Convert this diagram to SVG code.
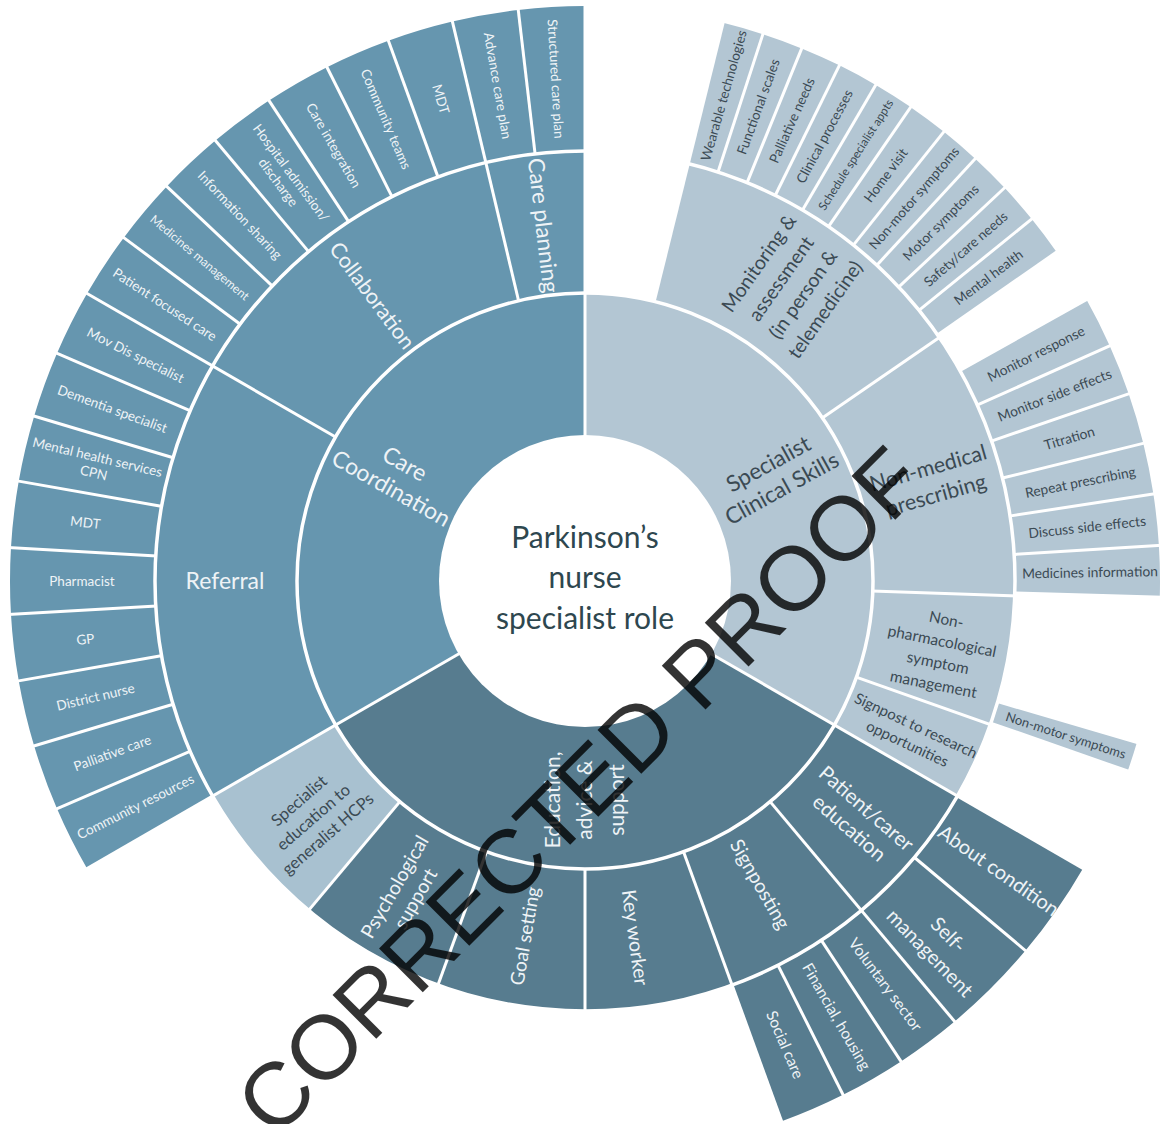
<svg xmlns="http://www.w3.org/2000/svg" width="1164" height="1124" viewBox="0 0 1164 1124">
<style>
.s{fill:none}
.cc{stroke:#6696af}
.ed{stroke:#577c8f}
.sp{stroke:#b3c6d3}
.se{stroke:#a8c1d0}
.r1{stroke-width:143}
.r2{stroke-width:142}
.r3{stroke-width:145}
.t{font-family:Lato,"Open Sans","DejaVu Sans",sans-serif;text-anchor:middle}
.w{fill:#eef3f6}
.d{fill:#3b4a53}
.wm{font-family:"Liberation Sans",Arial,sans-serif;text-anchor:start;fill:#000;fill-opacity:0.8}
</style>
<rect width="1164" height="1124" fill="#fff"/>
<g transform="translate(585,581)">
<!-- Ring 1 -->
<g id="n-care-coordination">
<circle class="s cc r1" r="216.5" pathLength="360" stroke-dasharray="120 400" transform="rotate(150)"/>
<text class="t w" font-size="23" transform="rotate(299.3) translate(0,-214.5) rotate(90)"><tspan x="0" y="-6">Care</tspan><tspan x="0" y="22">Coordination</tspan></text>
</g>
<g id="n-specialist-clinical-skills">
<circle class="s sp r1" r="216.5" pathLength="360" stroke-dasharray="120 400" transform="rotate(-90)"/>
<text class="t d" font-size="22.5" transform="rotate(61.1) translate(0,-217) rotate(-90)"><tspan x="0" y="-6.1">Specialist</tspan><tspan x="0" y="21.9">Clinical Skills</tspan></text>
</g>
<g id="n-education-advice-support">
<circle class="s ed r1" r="216.5" pathLength="360" stroke-dasharray="120 400" transform="rotate(30)"/>
<text class="t w" font-size="21" transform="rotate(180) translate(0,-219) rotate(90)"><tspan x="0" y="-24.65">Education,</tspan><tspan x="0" y="7.35">advice &amp;</tspan><tspan x="0" y="39.35">support</tspan></text>
</g>
<!-- Ring 2 -->
<g id="n-care-planning">
<circle class="s cc r2" r="359" pathLength="360" stroke-dasharray="13.333 400" transform="rotate(256.667)"/>
<text class="t w" font-size="22.5" transform="rotate(353.333) translate(0,-358) rotate(90)"><tspan x="0" y="7.9">Care planning</tspan></text>
</g>
<g id="n-collaboration">
<circle class="s cc r2" r="359" pathLength="360" stroke-dasharray="46.667 400" transform="rotate(210)"/>
<text class="t w" font-size="21.5" transform="rotate(323.3) translate(0,-356) rotate(90)"><tspan x="0" y="7.5">Collaboration</tspan></text>
</g>
<g id="n-referral">
<circle class="s cc r2" r="359" pathLength="360" stroke-dasharray="60 400" transform="rotate(150)"/>
<text class="t w" font-size="23" transform="rotate(270) translate(0,-360) rotate(90)"><tspan x="0" y="8">Referral</tspan></text>
</g>
<g id="n-monitoring-assessment">
<circle class="s sp r2" r="359" pathLength="360" stroke-dasharray="41.6 400" transform="rotate(-76.1)"/>
<text class="t d" font-size="19.5" transform="rotate(35.1) translate(0,-360) rotate(-90)"><tspan x="0" y="-33.7">Monitoring &amp;</tspan><tspan x="0" y="-6.7">assessment</tspan><tspan x="0" y="20.3">(in person &amp;</tspan><tspan x="0" y="47.3">telemedicine)</tspan></text>
</g>
<g id="n-non-medical-prescribing">
<circle class="s sp r2" r="359" pathLength="360" stroke-dasharray="36.5 400" transform="rotate(-34.5)"/>
<text class="t d" font-size="21.5" transform="rotate(74) translate(0,-361) rotate(-90)"><tspan x="0" y="-6.5">Non-medical</tspan><tspan x="0" y="21.5">prescribing</tspan></text>
</g>
<g id="n-non-pharmacological">
<circle class="s sp r2" r="359" pathLength="360" stroke-dasharray="17.5 400" transform="rotate(2)"/>
<text class="t d" font-size="15.5" transform="rotate(101.3) translate(0,-362) rotate(-90)"><tspan x="0" y="-27.6">Non-</tspan><tspan x="0" y="-5.6">pharmacological</tspan><tspan x="0" y="16.4">symptom</tspan><tspan x="0" y="38.4">management</tspan></text>
</g>
<g id="n-signpost-research">
<circle class="s sp r2" r="359" pathLength="360" stroke-dasharray="10.5 400" transform="rotate(19.5)"/>
<text class="t d" font-size="15" transform="rotate(115.2) translate(0,-361) rotate(-90)"><tspan x="0" y="-4.75">Signpost to research</tspan><tspan x="0" y="15.25">opportunities</tspan></text>
</g>
<g id="n-patient-carer-education">
<circle class="s ed r2" r="359" pathLength="360" stroke-dasharray="20 400" transform="rotate(30)"/>
<text class="t w" font-size="20.5" transform="rotate(131) translate(0,-361.5) rotate(-90)"><tspan x="0" y="-5.8">Patient/carer</tspan><tspan x="0" y="20.2">education</tspan></text>
</g>
<g id="n-signposting">
<circle class="s ed r2" r="359" pathLength="360" stroke-dasharray="20 400" transform="rotate(50)"/>
<text class="t w" font-size="19.5" transform="rotate(150) translate(0,-350) rotate(-90)"><tspan x="0" y="6.8">Signposting</tspan></text>
</g>
<g id="n-key-worker">
<circle class="s ed r2" r="359" pathLength="360" stroke-dasharray="20 400" transform="rotate(70)"/>
<text class="t w" font-size="19.5" transform="rotate(172) translate(0,-360) rotate(-90)"><tspan x="0" y="6.8">Key worker</tspan></text>
</g>
<g id="n-goal-setting">
<circle class="s ed r2" r="359" pathLength="360" stroke-dasharray="20 400" transform="rotate(90)"/>
<text class="t w" font-size="19" transform="rotate(189.6) translate(0,-360) rotate(90)"><tspan x="0" y="6.65">Goal setting</tspan></text>
</g>
<g id="n-psychological-support">
<circle class="s ed r2" r="359" pathLength="360" stroke-dasharray="20 400" transform="rotate(110)"/>
<text class="t w" font-size="19.5" transform="rotate(210) translate(0,-360) rotate(90)"><tspan x="0" y="-5.2">Psychological</tspan><tspan x="0" y="18.8">support</tspan></text>
</g>
<g id="n-specialist-education">
<circle class="s se r2" r="359" pathLength="360" stroke-dasharray="20 400" transform="rotate(130)"/>
<text class="t d" font-size="16.5" transform="rotate(229) translate(0,-360) rotate(90)"><tspan x="0" y="-16.2">Specialist</tspan><tspan x="0" y="5.8">education to</tspan><tspan x="0" y="27.8">generalist HCPs</tspan></text>
</g>
<!-- Ring 3: Care coordination leaves -->
<g id="n-structured-care-plan">
<circle class="s cc r3" r="502.5" pathLength="360" stroke-dasharray="6.667 400" transform="rotate(263.333)"/>
<text class="t w" font-size="13.5" transform="rotate(356.667) translate(0,-503) rotate(90)"><tspan x="0" y="4.7">Structured care plan</tspan></text>
</g>
<g id="n-advance-care-plan">
<circle class="s cc r3" r="502.5" pathLength="360" stroke-dasharray="6.667 400" transform="rotate(256.667)"/>
<text class="t w" font-size="13.5" transform="rotate(350) translate(0,-503) rotate(90)"><tspan x="0" y="4.7">Advance care plan</tspan></text>
</g>
<g id="n-mdt-collaboration">
<circle class="s cc r3" r="502.5" pathLength="360" stroke-dasharray="6.667 400" transform="rotate(250)"/>
<text class="t w" font-size="13.5" transform="rotate(343.333) translate(0,-503) rotate(90)"><tspan x="0" y="4.7">MDT</tspan></text>
</g>
<g id="n-community-teams">
<circle class="s cc r3" r="502.5" pathLength="360" stroke-dasharray="6.667 400" transform="rotate(243.333)"/>
<text class="t w" font-size="13.5" transform="rotate(336.667) translate(0,-503) rotate(90)"><tspan x="0" y="4.7">Community teams</tspan></text>
</g>
<g id="n-care-integration">
<circle class="s cc r3" r="502.5" pathLength="360" stroke-dasharray="6.667 400" transform="rotate(236.667)"/>
<text class="t w" font-size="13.5" transform="rotate(330) translate(0,-503) rotate(90)"><tspan x="0" y="4.7">Care integration</tspan></text>
</g>
<g id="n-hospital-admission">
<circle class="s cc r3" r="502.5" pathLength="360" stroke-dasharray="6.667 400" transform="rotate(230)"/>
<text class="t w" font-size="13.5" transform="rotate(323.333) translate(0,-503) rotate(90)"><tspan x="0" y="-3.3">Hospital admission/</tspan><tspan x="0" y="12.7">discharge</tspan></text>
</g>
<g id="n-information-sharing">
<circle class="s cc r3" r="502.5" pathLength="360" stroke-dasharray="6.667 400" transform="rotate(223.333)"/>
<text class="t w" font-size="13.5" transform="rotate(316.667) translate(0,-503) rotate(90)"><tspan x="0" y="4.7">Information sharing</tspan></text>
</g>
<g id="n-medicines-management">
<circle class="s cc r3" r="502.5" pathLength="360" stroke-dasharray="6.667 400" transform="rotate(216.667)"/>
<text class="t w" font-size="12" transform="rotate(310) translate(0,-503) rotate(90)"><tspan x="0" y="4.2">Medicines management</tspan></text>
</g>
<g id="n-patient-focused-care">
<circle class="s cc r3" r="502.5" pathLength="360" stroke-dasharray="6.667 400" transform="rotate(210)"/>
<text class="t w" font-size="13.5" transform="rotate(303.333) translate(0,-503) rotate(90)"><tspan x="0" y="4.7">Patient focused care</tspan></text>
</g>
<g id="n-mov-dis-specialist">
<circle class="s cc r3" r="502.5" pathLength="360" stroke-dasharray="6.667 400" transform="rotate(203.333)"/>
<text class="t w" font-size="13.5" transform="rotate(296.667) translate(0,-503) rotate(90)"><tspan x="0" y="4.7">Mov Dis specialist</tspan></text>
</g>
<g id="n-dementia-specialist">
<circle class="s cc r3" r="502.5" pathLength="360" stroke-dasharray="6.667 400" transform="rotate(196.667)"/>
<text class="t w" font-size="13.5" transform="rotate(290) translate(0,-503) rotate(90)"><tspan x="0" y="4.7">Dementia specialist</tspan></text>
</g>
<g id="n-mental-health-services">
<circle class="s cc r3" r="502.5" pathLength="360" stroke-dasharray="6.667 400" transform="rotate(190)"/>
<text class="t w" font-size="13.5" transform="rotate(283.333) translate(0,-503) rotate(90)"><tspan x="0" y="-3.3">Mental health services</tspan><tspan x="0" y="12.7">CPN</tspan></text>
</g>
<g id="n-mdt-referral">
<circle class="s cc r3" r="502.5" pathLength="360" stroke-dasharray="6.667 400" transform="rotate(183.333)"/>
<text class="t w" font-size="13.5" transform="rotate(276.667) translate(0,-503) rotate(90)"><tspan x="0" y="4.7">MDT</tspan></text>
</g>
<g id="n-pharmacist">
<circle class="s cc r3" r="502.5" pathLength="360" stroke-dasharray="6.667 400" transform="rotate(176.667)"/>
<text class="t w" font-size="13.5" transform="rotate(270) translate(0,-503) rotate(90)"><tspan x="0" y="4.7">Pharmacist</tspan></text>
</g>
<g id="n-gp">
<circle class="s cc r3" r="502.5" pathLength="360" stroke-dasharray="6.667 400" transform="rotate(170)"/>
<text class="t w" font-size="13.5" transform="rotate(263.333) translate(0,-503) rotate(90)"><tspan x="0" y="4.7">GP</tspan></text>
</g>
<g id="n-district-nurse">
<circle class="s cc r3" r="502.5" pathLength="360" stroke-dasharray="6.667 400" transform="rotate(163.333)"/>
<text class="t w" font-size="13.5" transform="rotate(256.667) translate(0,-503) rotate(90)"><tspan x="0" y="4.7">District nurse</tspan></text>
</g>
<g id="n-palliative-care">
<circle class="s cc r3" r="502.5" pathLength="360" stroke-dasharray="6.667 400" transform="rotate(156.667)"/>
<text class="t w" font-size="13.5" transform="rotate(250) translate(0,-503) rotate(90)"><tspan x="0" y="4.7">Palliative care</tspan></text>
</g>
<g id="n-community-resources">
<circle class="s cc r3" r="502.5" pathLength="360" stroke-dasharray="6.667 400" transform="rotate(150)"/>
<text class="t w" font-size="13.5" transform="rotate(243.333) translate(0,-503) rotate(90)"><tspan x="0" y="4.7">Community resources</tspan></text>
</g>
<!-- Ring 3: Monitoring leaves -->
<g id="n-wearable-technologies">
<circle class="s sp r3" r="502.5" pathLength="360" stroke-dasharray="4.12 400" transform="rotate(-76.1)"/>
<text class="t d" font-size="13.5" transform="rotate(15.96) translate(0,-505) rotate(-90)"><tspan x="0" y="4.7">Wearable technologies</tspan></text>
</g>
<g id="n-functional-scales">
<circle class="s sp r3" r="502.5" pathLength="360" stroke-dasharray="4.12 400" transform="rotate(-71.98)"/>
<text class="t d" font-size="13.5" transform="rotate(20.08) translate(0,-505) rotate(-90)"><tspan x="0" y="4.7">Functional scales</tspan></text>
</g>
<g id="n-palliative-needs">
<circle class="s sp r3" r="502.5" pathLength="360" stroke-dasharray="4.12 400" transform="rotate(-67.86)"/>
<text class="t d" font-size="13.5" transform="rotate(24.2) translate(0,-505) rotate(-90)"><tspan x="0" y="4.7">Palliative needs</tspan></text>
</g>
<g id="n-clinical-processes">
<circle class="s sp r3" r="502.5" pathLength="360" stroke-dasharray="4.12 400" transform="rotate(-63.74)"/>
<text class="t d" font-size="13.5" transform="rotate(28.32) translate(0,-505) rotate(-90)"><tspan x="0" y="4.7">Clinical processes</tspan></text>
</g>
<g id="n-schedule-specialist-appts">
<circle class="s sp r3" r="502.5" pathLength="360" stroke-dasharray="4.12 400" transform="rotate(-59.62)"/>
<text class="t d" font-size="11.8" transform="rotate(32.44) translate(0,-505) rotate(-90)"><tspan x="0" y="4.1">Schedule specialist appts</tspan></text>
</g>
<g id="n-home-visit">
<circle class="s sp r3" r="502.5" pathLength="360" stroke-dasharray="4.12 400" transform="rotate(-55.5)"/>
<text class="t d" font-size="13.5" transform="rotate(36.56) translate(0,-505) rotate(-90)"><tspan x="0" y="4.7">Home visit</tspan></text>
</g>
<g id="n-non-motor-symptoms-ma">
<circle class="s sp r3" r="502.5" pathLength="360" stroke-dasharray="4.12 400" transform="rotate(-51.38)"/>
<text class="t d" font-size="13.5" transform="rotate(40.68) translate(0,-505) rotate(-90)"><tspan x="0" y="4.7">Non-motor symptoms</tspan></text>
</g>
<g id="n-motor-symptoms">
<circle class="s sp r3" r="502.5" pathLength="360" stroke-dasharray="4.12 400" transform="rotate(-47.26)"/>
<text class="t d" font-size="13.5" transform="rotate(44.8) translate(0,-505) rotate(-90)"><tspan x="0" y="4.7">Motor symptoms</tspan></text>
</g>
<g id="n-safety-care-needs">
<circle class="s sp r3" r="502.5" pathLength="360" stroke-dasharray="4.12 400" transform="rotate(-43.14)"/>
<text class="t d" font-size="13.5" transform="rotate(48.92) translate(0,-505) rotate(-90)"><tspan x="0" y="4.7">Safety/care needs</tspan></text>
</g>
<g id="n-mental-health">
<circle class="s sp r3" r="502.5" pathLength="360" stroke-dasharray="4.12 400" transform="rotate(-39.02)"/>
<text class="t d" font-size="13.5" transform="rotate(53.04) translate(0,-505) rotate(-90)"><tspan x="0" y="4.7">Mental health</tspan></text>
</g>
<!-- Ring 3: Prescribing leaves -->
<g id="n-monitor-response">
<circle class="s sp r3" r="502.5" pathLength="360" stroke-dasharray="5.15 400" transform="rotate(-29.3)"/>
<text class="t d" font-size="13.8" transform="rotate(63.28) translate(0,-505) rotate(-90)"><tspan x="0" y="4.8">Monitor response</tspan></text>
</g>
<g id="n-monitor-side-effects">
<circle class="s sp r3" r="502.5" pathLength="360" stroke-dasharray="5.15 400" transform="rotate(-24.15)"/>
<text class="t d" font-size="13.8" transform="rotate(68.43) translate(0,-505) rotate(-90)"><tspan x="0" y="4.8">Monitor side effects</tspan></text>
</g>
<g id="n-titration">
<circle class="s sp r3" r="502.5" pathLength="360" stroke-dasharray="5.15 400" transform="rotate(-19)"/>
<text class="t d" font-size="13.8" transform="rotate(73.58) translate(0,-505) rotate(-90)"><tspan x="0" y="4.8">Titration</tspan></text>
</g>
<g id="n-repeat-prescribing">
<circle class="s sp r3" r="502.5" pathLength="360" stroke-dasharray="5.15 400" transform="rotate(-13.85)"/>
<text class="t d" font-size="13.8" transform="rotate(78.73) translate(0,-505) rotate(-90)"><tspan x="0" y="4.8">Repeat prescribing</tspan></text>
</g>
<g id="n-discuss-side-effects">
<circle class="s sp r3" r="502.5" pathLength="360" stroke-dasharray="5.15 400" transform="rotate(-8.7)"/>
<text class="t d" font-size="13.8" transform="rotate(83.88) translate(0,-505) rotate(-90)"><tspan x="0" y="4.8">Discuss side effects</tspan></text>
</g>
<g id="n-medicines-information">
<circle class="s sp r3" r="502.5" pathLength="360" stroke-dasharray="5.15 400" transform="rotate(-3.55)"/>
<text class="t d" font-size="13.8" transform="rotate(89.03) translate(0,-505) rotate(-90)"><tspan x="0" y="4.8">Medicines information</tspan></text>
</g>
<g id="n-non-motor-symptoms-np">
<circle class="s sp r3" r="502.5" pathLength="360" stroke-dasharray="3 400" transform="rotate(16.3)"/>
<text class="t d" font-size="13" transform="rotate(107.8) translate(0,-505) rotate(-90)"><tspan x="0" y="4.55">Non-motor symptoms</tspan></text>
</g>
<!-- Ring 3: Education leaves -->
<g id="n-about-condition">
<circle class="s ed r3" r="502.5" pathLength="360" stroke-dasharray="10 400" transform="rotate(30)"/>
<text class="t w" font-size="20" transform="rotate(125) translate(0,-505) rotate(-90)"><tspan x="0" y="7">About condition</tspan></text>
</g>
<g id="n-self-management">
<circle class="s ed r3" r="502.5" pathLength="360" stroke-dasharray="10 400" transform="rotate(40)"/>
<text class="t w" font-size="20" transform="rotate(135.7) translate(0,-507) rotate(-90)"><tspan x="0" y="-6">Self-</tspan><tspan x="0" y="20">management</tspan></text>
</g>
<g id="n-voluntary-sector">
<circle class="s ed r3" r="502.5" pathLength="360" stroke-dasharray="6.667 400" transform="rotate(50)"/>
<text class="t w" font-size="15.5" transform="rotate(143.333) translate(0,-503) rotate(-90)"><tspan x="0" y="5.4">Voluntary sector</tspan></text>
</g>
<g id="n-financial-housing">
<circle class="s ed r3" r="502.5" pathLength="360" stroke-dasharray="6.667 400" transform="rotate(56.667)"/>
<text class="t w" font-size="15.5" transform="rotate(150) translate(0,-503) rotate(-90)"><tspan x="0" y="5.4">Financial, housing</tspan></text>
</g>
<g id="n-social-care">
<circle class="s ed r3" r="502.5" pathLength="360" stroke-dasharray="6.667 400" transform="rotate(63.333)"/>
<text class="t w" font-size="15.5" transform="rotate(156.667) translate(0,-505) rotate(-90)"><tspan x="0" y="5.4">Social care</tspan></text>
</g>
<!-- separators -->
<g id="connectors" stroke="#fff" stroke-width="3" fill="none">
<circle r="288" stroke-width="3.5"/>
<circle r="430" stroke-width="3.5"/>
<line y1="-145" y2="-578" transform="rotate(0)"/>
<line y1="-145" y2="-578" transform="rotate(120)"/>
<line y1="-145" y2="-578" transform="rotate(240)"/>
<line y1="-287" y2="-578" transform="rotate(346.667)"/>
<line y1="-287" y2="-578" transform="rotate(300)"/>
<line y1="-287" y2="-578" transform="rotate(220)"/>
<line y1="-287" y2="-578" transform="rotate(200)"/>
<line y1="-287" y2="-578" transform="rotate(180)"/>
<line y1="-287" y2="-578" transform="rotate(160)"/>
<line y1="-287" y2="-578" transform="rotate(140)"/>
<line y1="-287" y2="-578" transform="rotate(13.9)"/>
<line y1="-287" y2="-578" transform="rotate(55.5)"/>
<line y1="-287" y2="-578" transform="rotate(92)"/>
<line y1="-287" y2="-578" transform="rotate(109.5)"/>
<line y1="-429" y2="-578" transform="rotate(353.333)"/>
<line y1="-429" y2="-578" transform="rotate(340)"/>
<line y1="-429" y2="-578" transform="rotate(333.333)"/>
<line y1="-429" y2="-578" transform="rotate(326.667)"/>
<line y1="-429" y2="-578" transform="rotate(320)"/>
<line y1="-429" y2="-578" transform="rotate(313.333)"/>
<line y1="-429" y2="-578" transform="rotate(306.667)"/>
<line y1="-429" y2="-578" transform="rotate(293.333)"/>
<line y1="-429" y2="-578" transform="rotate(286.667)"/>
<line y1="-429" y2="-578" transform="rotate(280)"/>
<line y1="-429" y2="-578" transform="rotate(273.333)"/>
<line y1="-429" y2="-578" transform="rotate(266.667)"/>
<line y1="-429" y2="-578" transform="rotate(260)"/>
<line y1="-429" y2="-578" transform="rotate(253.333)"/>
<line y1="-429" y2="-578" transform="rotate(246.667)"/>
<line y1="-429" y2="-578" transform="rotate(18.02)"/>
<line y1="-429" y2="-578" transform="rotate(22.14)"/>
<line y1="-429" y2="-578" transform="rotate(26.26)"/>
<line y1="-429" y2="-578" transform="rotate(30.38)"/>
<line y1="-429" y2="-578" transform="rotate(34.5)"/>
<line y1="-429" y2="-578" transform="rotate(38.62)"/>
<line y1="-429" y2="-578" transform="rotate(42.74)"/>
<line y1="-429" y2="-578" transform="rotate(46.86)"/>
<line y1="-429" y2="-578" transform="rotate(50.98)"/>
<line y1="-429" y2="-578" transform="rotate(55.1)"/>
<line y1="-429" y2="-578" transform="rotate(60.7)"/>
<line y1="-429" y2="-578" transform="rotate(65.85)"/>
<line y1="-429" y2="-578" transform="rotate(71)"/>
<line y1="-429" y2="-578" transform="rotate(76.15)"/>
<line y1="-429" y2="-578" transform="rotate(81.3)"/>
<line y1="-429" y2="-578" transform="rotate(86.45)"/>
<line y1="-429" y2="-578" transform="rotate(91.6)"/>
<line y1="-429" y2="-578" transform="rotate(106.3)"/>
<line y1="-429" y2="-578" transform="rotate(109.3)"/>
<line y1="-429" y2="-578" transform="rotate(130)"/>
<line y1="-429" y2="-578" transform="rotate(146.667)"/>
<line y1="-429" y2="-578" transform="rotate(153.333)"/>
</g>
<g id="n-center">
<circle r="146" fill="#fff"/>
<text class="t" font-size="30" fill="#2e474f"><tspan x="0" y="-33">Parkinson’s</tspan><tspan x="0" y="7">nurse</tspan><tspan x="0" y="48">specialist role</tspan></text>
</g>
</g>
<text class="wm" font-size="90" textLength="926" lengthAdjust="spacingAndGlyphs" transform="translate(274.5,1140.5) rotate(-45)">CORRECTED PROOF</text>
</svg>
